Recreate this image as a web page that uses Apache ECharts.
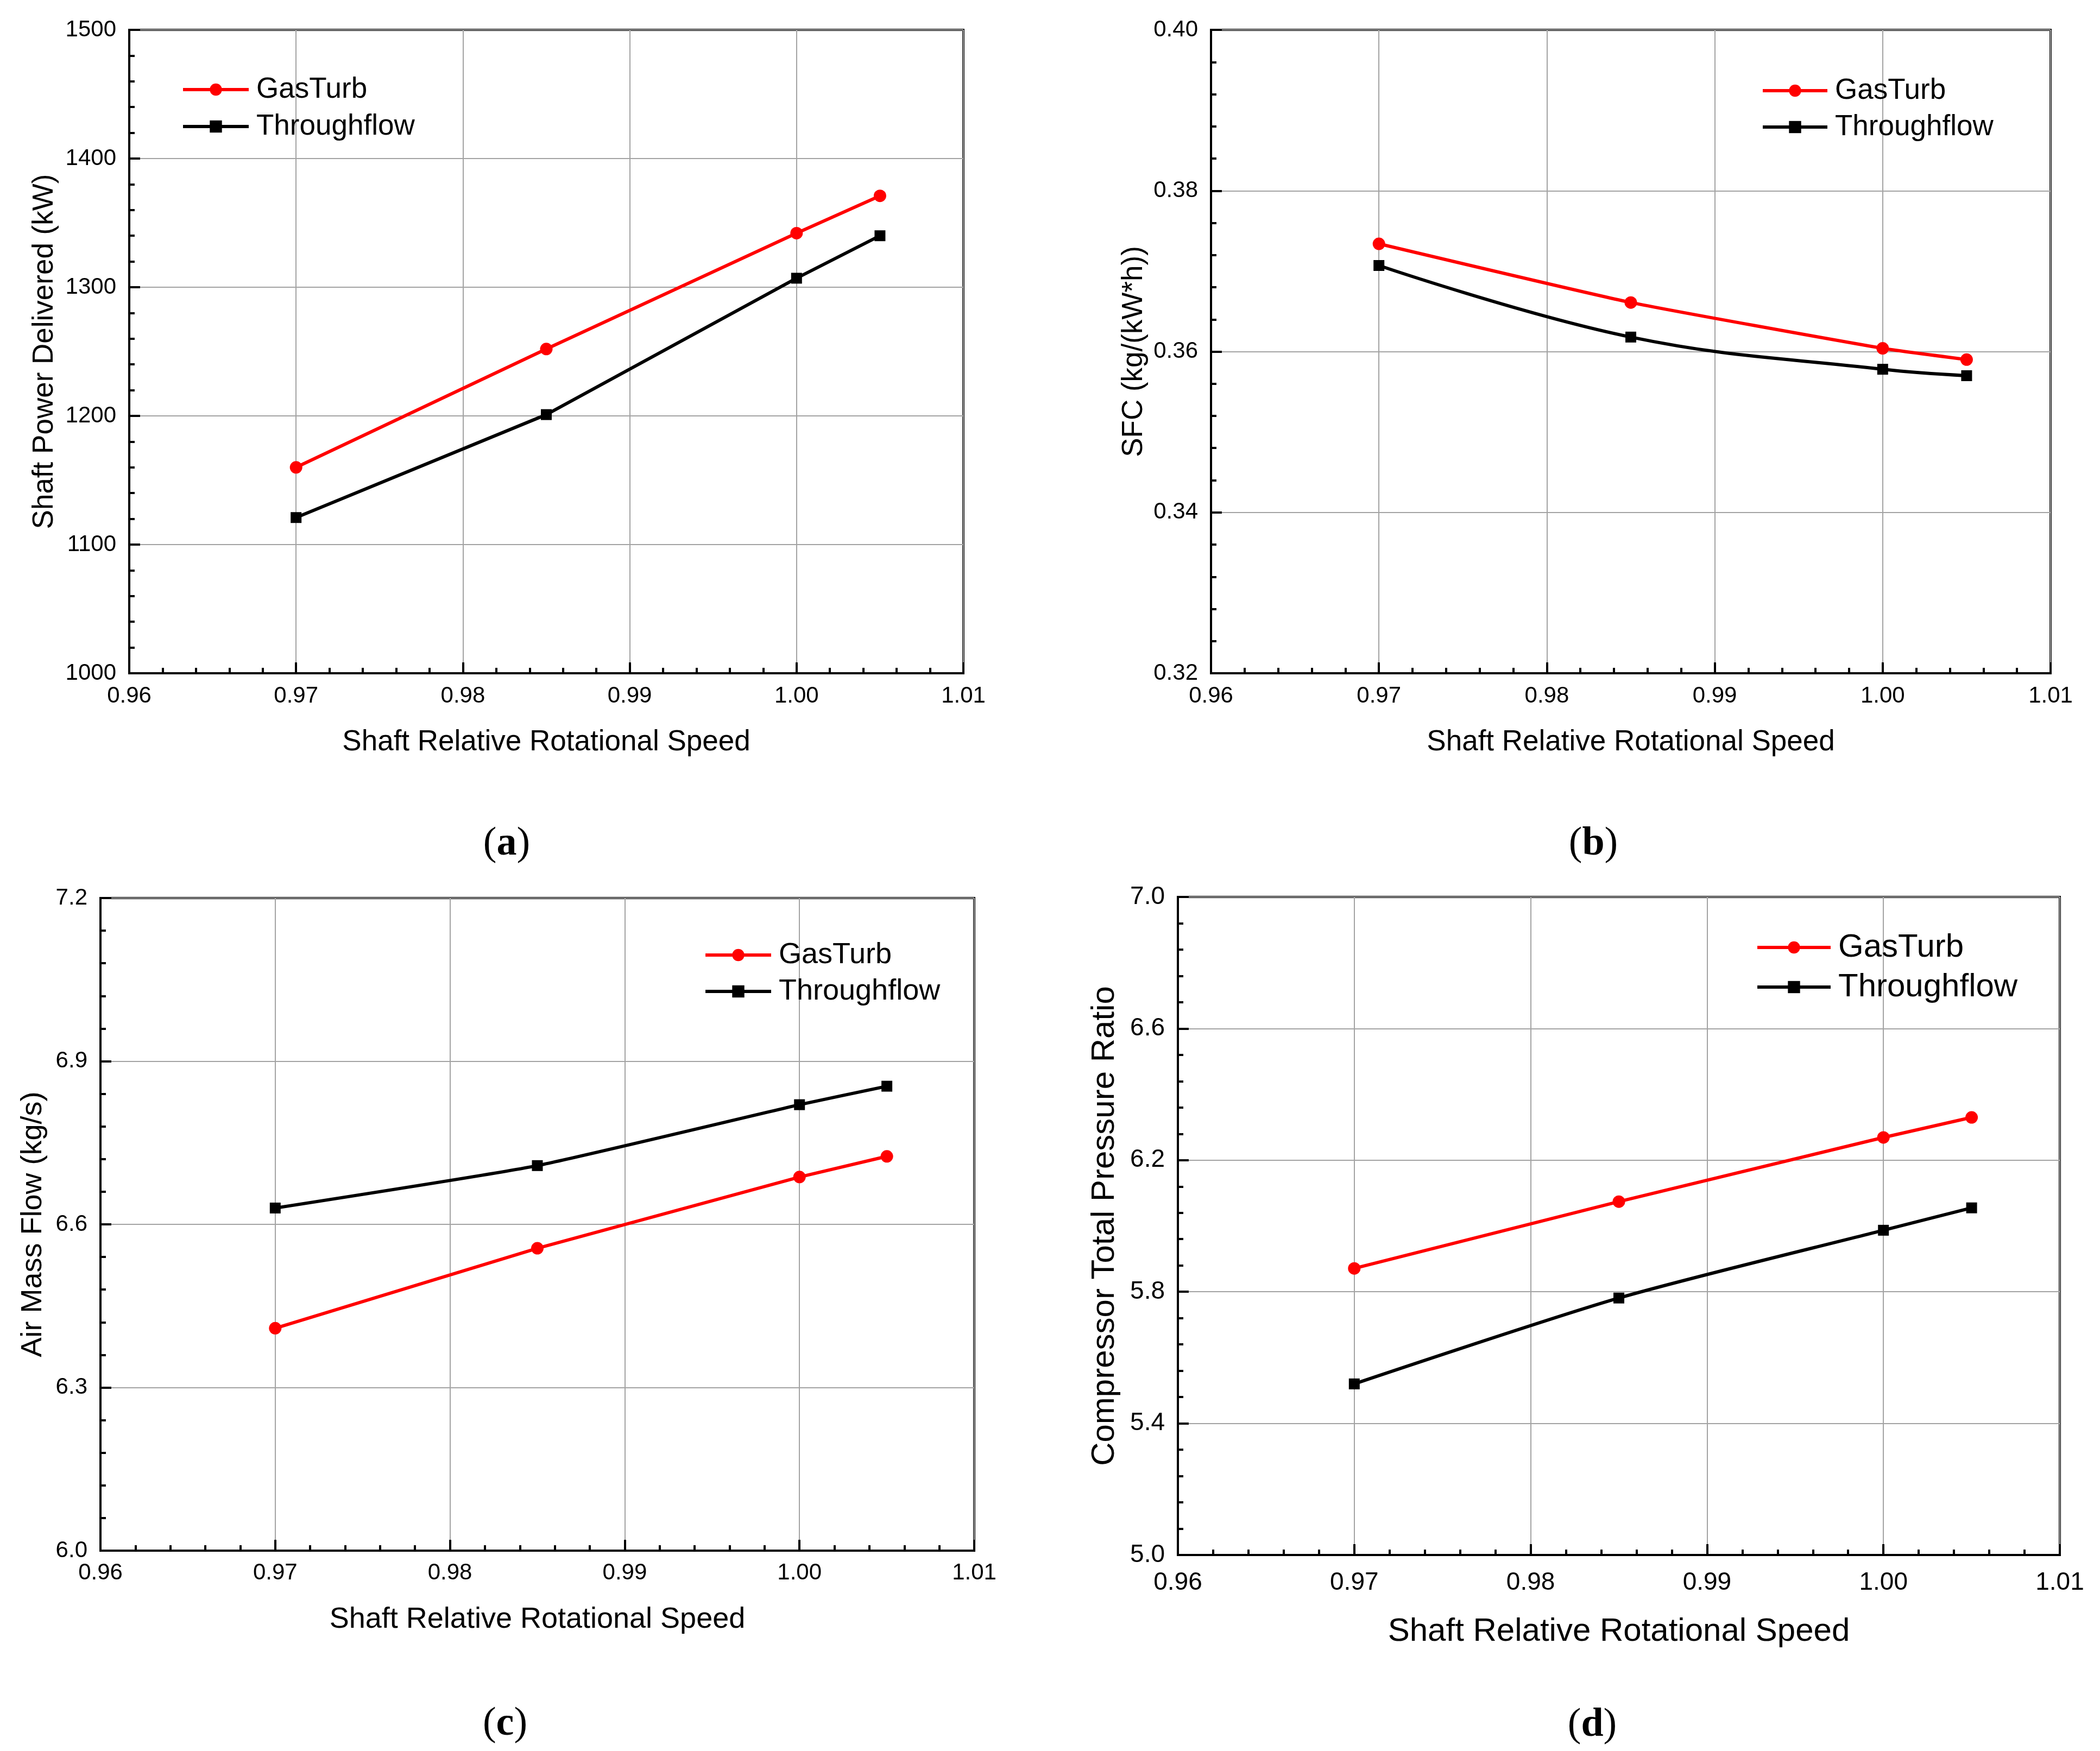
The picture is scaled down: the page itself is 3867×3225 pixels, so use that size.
<!DOCTYPE html>
<html>
<head>
<meta charset="utf-8">
<script src="https://cdn.jsdelivr.net/npm/echarts@6/dist/echarts.min.js"></script>
<style>
html, body { margin: 0; padding: 0; background: #fff; }
#main { width: 3867px; height: 3225px; }
</style>
</head>
<body>
<div id="main"></div>
<script>
// shaft relative rotational speed (x for every panel)
const speed = [0.97, 0.985, 1.00, 1.005];

// (a) shaft power delivered, kW
const powerGasTurb = [1160, 1252, 1342, 1371];
const powerThroughflow = [1121, 1201, 1307, 1340];
// (b) SFC, kg/(kW*h)
const sfcGasTurb = [0.3734, 0.3661, 0.3604, 0.3590];
const sfcThroughflow = [0.3707, 0.3618, 0.3578, 0.3570];
// (c) air mass flow, kg/s
const flowGasTurb = [6.409, 6.556, 6.687, 6.725];
const flowThroughflow = [6.630, 6.708, 6.820, 6.854];
// (d) compressor total pressure ratio
const prGasTurb = [5.871, 6.074, 6.269, 6.330];
const prThroughflow = [5.520, 5.781, 5.987, 6.055];

const yTitles = ['Shaft Power Delivered (kW)', 'SFC (kg/(kW*h))', 'Air Mass Flow (kg/s)', 'Compressor Total Pressure Ratio'];
const yMin = [1000, 0.32, 6.0, 5.0];
const yMax = [1500, 0.40, 7.2, 7.0];
const yStep = [100, 0.02, 0.3, 0.4];
const yDigits = [0, 2, 1, 1];
const panelTags = ['a', 'b', 'c', 'd'];

const FONT = '"Liberation Sans", Arial, sans-serif';

// layout per panel
const panels = [
    { grid: { left: 238, top: 55, width: 1536, height: 1185 }, tick: 42, title: 53, xMargin: 21, xGap: 101, yGap: 129,
      legend: { left: 334, top: 137, itemWidth: 121, lh: 56, gap: 12 }, tag: [933, 1555] },
    { grid: { left: 2230, top: 55, width: 1546, height: 1185 }, tick: 42, title: 53, xMargin: 21, xGap: 101, yGap: 115,
      legend: { left: 3243, top: 139, itemWidth: 119, lh: 56, gap: 11 }, tag: [2934, 1555] },
    { grid: { left: 185, top: 1654, width: 1609, height: 1202 }, tick: 42, title: 54, xMargin: 20, xGap: 100, yGap: 97,
      legend: { left: 1296, top: 1731, itemWidth: 121, lh: 56, gap: 11 }, tag: [930, 3176] },
    { grid: { left: 2169, top: 1652, width: 1624, height: 1212 }, tick: 46, title: 60, xMargin: 28, xGap: 111, yGap: 105,
      legend: { left: 3233, top: 1714, itemWidth: 135, lh: 62, gap: 11 }, tag: [2932, 3178] }
];

const seriesValues = [
    [powerGasTurb, powerThroughflow],
    [sfcGasTurb, sfcThroughflow],
    [flowGasTurb, flowThroughflow],
    [prGasTurb, prThroughflow]
];
const smoothing = [[false, false], [0.15, 0.4], [false, 0.15], [false, 0.25]];

function pairs(ys) {
    return speed.map((x, i) => [x, ys[i]]);
}

const tickStyle = { color: '#000', width: 4 };

let option = {
    animation: false,
    backgroundColor: '#fff',
    grid: [],
    xAxis: [],
    yAxis: [],
    legend: [],
    series: [],
    graphic: []
};

panels.forEach((p, i) => {
    option.grid.push(Object.assign({ show: true, borderColor: '#000', borderWidth: 4 }, p.grid));

    option.xAxis.push({
        type: 'value',
        gridIndex: i,
        min: 0.96,
        max: 1.01,
        interval: 0.01,
        name: 'Shaft Relative Rotational Speed',
        nameLocation: 'middle',
        nameGap: p.xGap,
        nameTextStyle: { fontSize: p.title, fontFamily: FONT, color: '#000' },
        axisLine: { onZero: false, lineStyle: { color: '#000', width: 4 } },
        axisTick: { inside: true, length: 20, lineStyle: tickStyle },
        minorTick: { show: true, splitNumber: 5, length: 10, lineStyle: tickStyle },
        axisLabel: { fontSize: p.tick, fontFamily: FONT, color: '#000', margin: p.xMargin,
                     formatter: v => v.toFixed(2) },
        splitLine: { show: true, lineStyle: { color: '#a3a3a3', width: 2 } }
    });

    option.yAxis.push({
        type: 'value',
        gridIndex: i,
        min: yMin[i],
        max: yMax[i],
        interval: yStep[i],
        name: yTitles[i],
        nameLocation: 'middle',
        nameGap: p.yGap,
        nameTextStyle: { fontSize: p.title, fontFamily: FONT, color: '#000' },
        axisLine: { onZero: false, lineStyle: { color: '#000', width: 4 } },
        axisTick: { inside: true, length: 20, lineStyle: tickStyle },
        minorTick: { show: true, splitNumber: 5, length: 10, lineStyle: tickStyle },
        axisLabel: { fontSize: p.tick, fontFamily: FONT, color: '#000', margin: 24,
                     formatter: v => v.toFixed(yDigits[i]) },
        splitLine: { show: true, lineStyle: { color: '#a3a3a3', width: 2 } }
    });

    option.legend.push({
        orient: 'vertical',
        left: p.legend.left,
        top: p.legend.top,
        padding: 0,
        itemWidth: p.legend.itemWidth,
        itemHeight: 28,
        itemGap: p.legend.gap,
        selectedMode: false,
        lineStyle: { width: 6 },
        data: ['GasTurb', 'Throughflow'],
        textStyle: { fontSize: p.title, fontFamily: FONT, color: '#000', lineHeight: p.legend.lh,
                     padding: [0, 0, 0, 9] }
    });

    option.series.push({
        name: 'GasTurb',
        type: 'line',
        xAxisIndex: i,
        yAxisIndex: i,
        data: pairs(seriesValues[i][0]),
        smooth: smoothing[i][0],
        symbol: 'circle',
        symbolSize: 23,
        itemStyle: { color: '#ff0000' },
        lineStyle: { color: '#ff0000', width: 6 },
        z: 3
    });
    option.series.push({
        name: 'Throughflow',
        type: 'line',
        xAxisIndex: i,
        yAxisIndex: i,
        data: pairs(seriesValues[i][1]),
        smooth: smoothing[i][1],
        symbol: 'rect',
        symbolSize: 20,
        itemStyle: { color: '#000000' },
        lineStyle: { color: '#000000', width: 6 },
        z: 3
    });

    option.graphic.push({
        type: 'text',
        x: p.tag[0],
        y: p.tag[1],
        style: {
            text: '{p|(}{b|' + panelTags[i] + '}{p|)}',
            align: 'center',
            verticalAlign: 'middle',
            rich: {
                p: { fontFamily: '"Liberation Serif", "Times New Roman", serif', fontSize: 74, fill: '#000' },
                b: { fontFamily: '"Liberation Serif", "Times New Roman", serif', fontSize: 74, fontWeight: 'bold', fill: '#000' }
            }
        }
    });
});

let myChart = echarts.init(document.getElementById('main'));
myChart.setOption(option);
</script>
</body>
</html>
